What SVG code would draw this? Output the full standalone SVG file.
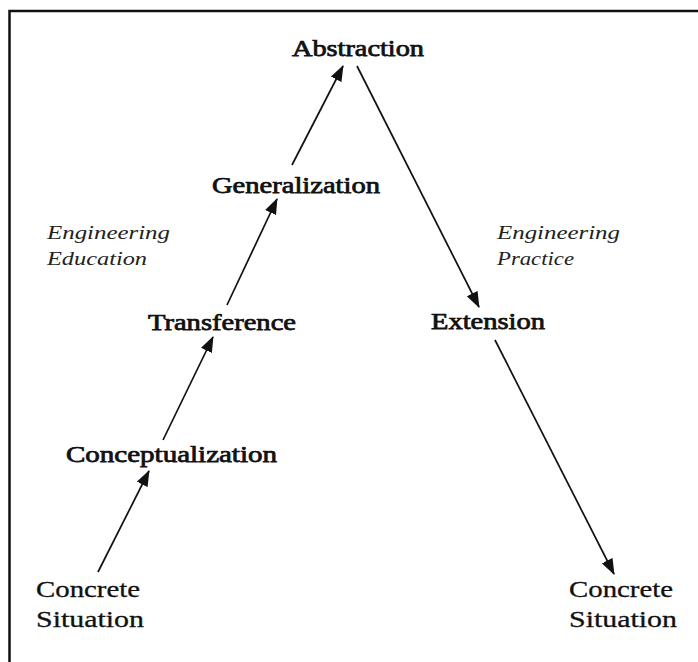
<svg xmlns="http://www.w3.org/2000/svg" width="698" height="662" viewBox="0 0 698 662">
<style>
text{font-family:"Liberation Serif","Times New Roman",serif;fill:#111}
.lbl{font-size:23px;stroke:#111;stroke-width:0.75}
.reg{font-size:23px;stroke:#111;stroke-width:0.3}
.it{font-size:19px;font-style:italic;fill:#222}
.conn line{stroke:#111;stroke-width:1.7;fill:none}
</style>
<defs>
<marker id="ah" viewBox="0 0 16 12" refX="15" refY="6" markerWidth="16" markerHeight="12" markerUnits="userSpaceOnUse" orient="auto">
<path d="M0,0 L16,6 L0,12 Z" fill="#111"/>
</marker>
</defs>
<rect width="698" height="662" fill="#fff"/>
<path d="M9.5,662 V11 H698" fill="none" stroke="#111" stroke-width="2.5"/>
<g id="abstraction"><text class="lbl" x="292" y="56" textLength="132" lengthAdjust="spacingAndGlyphs">Abstraction</text></g>
<g id="generalization"><text class="lbl" x="212" y="193" textLength="168" lengthAdjust="spacingAndGlyphs">Generalization</text></g>
<g id="transference"><text class="lbl" x="148" y="330" textLength="148" lengthAdjust="spacingAndGlyphs">Transference</text></g>
<g id="conceptualization"><text class="lbl" x="66" y="462" textLength="211" lengthAdjust="spacingAndGlyphs">Conceptualization</text></g>
<g id="extension"><text class="lbl" x="431" y="329" textLength="114" lengthAdjust="spacingAndGlyphs">Extension</text></g>
<g id="concrete-left"><text class="reg" x="36" y="597" textLength="104" lengthAdjust="spacingAndGlyphs">Concrete</text><text class="reg" x="36" y="627" textLength="108" lengthAdjust="spacingAndGlyphs">Situation</text></g>
<g id="concrete-right"><text class="reg" x="569" y="597" textLength="104" lengthAdjust="spacingAndGlyphs">Concrete</text><text class="reg" x="569" y="627" textLength="108" lengthAdjust="spacingAndGlyphs">Situation</text></g>
<g id="eng-education"><text class="it" x="47" y="239" textLength="123" lengthAdjust="spacingAndGlyphs">Engineering</text><text class="it" x="47" y="265" textLength="100" lengthAdjust="spacingAndGlyphs">Education</text></g>
<g id="eng-practice"><text class="it" x="497" y="239" textLength="123" lengthAdjust="spacingAndGlyphs">Engineering</text><text class="it" x="497" y="265" textLength="77" lengthAdjust="spacingAndGlyphs">Practice</text></g>
<g id="connectors" class="conn">
<line x1="98" y1="572" x2="149" y2="471" marker-end="url(#ah)"/>
<line x1="163" y1="440" x2="213" y2="337" marker-end="url(#ah)"/>
<line x1="227" y1="305" x2="277" y2="199" marker-end="url(#ah)"/>
<line x1="292" y1="165" x2="343" y2="66" marker-end="url(#ah)"/>
<line x1="357" y1="66" x2="479" y2="307" marker-end="url(#ah)"/>
<line x1="495" y1="340" x2="614" y2="574" marker-end="url(#ah)"/>
</g>
</svg>
